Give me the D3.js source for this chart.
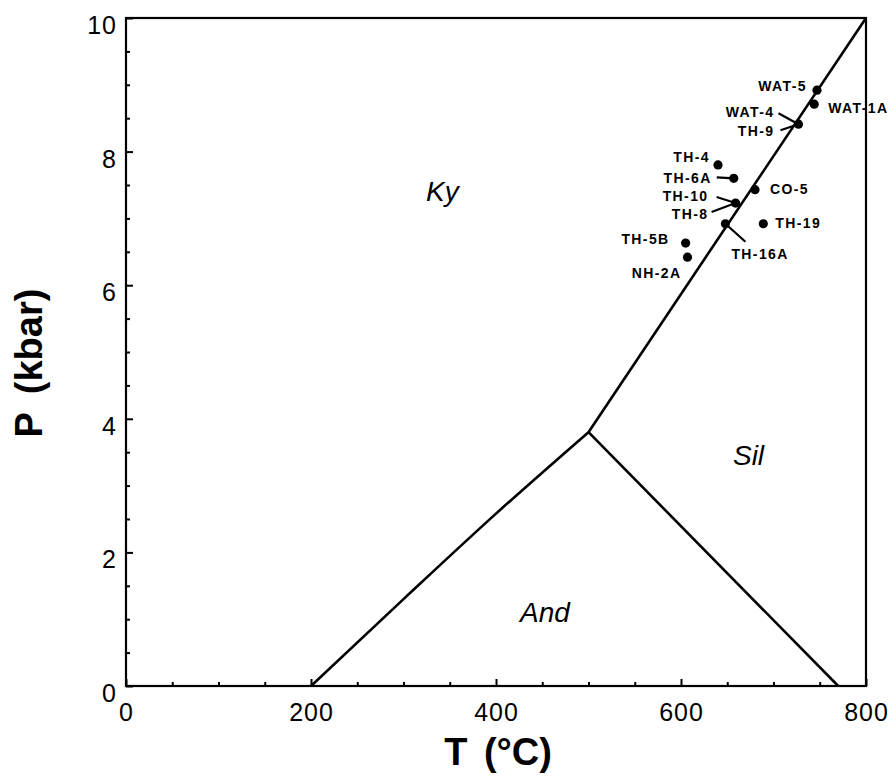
<!DOCTYPE html>
<html>
<head>
<meta charset="utf-8">
<script src="https://d3js.org/d3.v7.min.js"></script>
<style>
  html, body { margin: 0; padding: 0; background: #fff; }
  svg { display: block; }
  text { font-family: "Liberation Sans", Arial, Helvetica, sans-serif; fill: #000; }
</style>
</head>
<body>
<svg id="chart" width="896" height="779"></svg>
<script>
// ---- Data ----
const xTicks = [0, 200, 400, 600, 800];
const yTicks = [0, 2, 4, 6, 8, 10];

// Phase boundaries (T in °C, P in kbar)
const kyAndT = [200, 300, 400, 500];
const kyAndP = [0, 1.30, 2.58, 3.8];
const andSilT = [500, 770];
const andSilP = [3.8, 0];
const kySilT = [500, 800];
const kySilP = [3.8, 10];

// Samples
const sampleNames = ["WAT-5", "WAT-1A", "WAT-4/TH-9", "TH-4", "TH-6A", "CO-5", "TH-10/TH-8", "TH-19", "TH-16A", "TH-5B", "NH-2A"];
const sampleT = [747, 744, 727, 640, 657, 680, 659, 689, 648, 605, 607];
const sampleP = [8.92, 8.71, 8.41, 7.80, 7.60, 7.43, 7.23, 6.92, 6.92, 6.63, 6.42];

// Field names
const fieldNames = ["Ky", "Sil", "And"];
const fieldT = [342, 673, 453];
const fieldP = [7.4, 3.45, 1.1];

// ---- Label layout (pixel offsets from the sample dot) ----
// [sampleIndex, text, dx, dy, anchor, leader (x1,y1 offset) or null]
const labelLayout = [
  [0, "WAT-5", -10, -4, "end", null],
  [1, "WAT-1A", 14, 4, "start", null],
  [2, "WAT-4", -24, -12, "end", [-20, -11]],
  [2, "TH-9", -24, 7, "end", [-18, 6]],
  [3, "TH-4", -8, -8, "end", null],
  [4, "TH-6A", -22, 0, "end", [-17, -1]],
  [5, "CO-5", 15, -1, "start", null],
  [6, "TH-10", -27, -7, "end", [-19, -6]],
  [6, "TH-8", -27, 11, "end", [-24, 9]],
  [7, "TH-19", 12, -1, "start", null],
  [8, "TH-16A", 6, 30, "start", [20, 18]],
  [9, "TH-5B", -16, -4, "end", null],
  [10, "NH-2A", -6, 16, "end", null]
];

// ---- Scales ----
const svg = d3.select("#chart");
const x = d3.scaleLinear().domain([0, 800]).range([126, 866]);
const y = d3.scaleLinear().domain([0, 10]).range([686, 18]);

// Frame
svg.append("rect")
  .attr("x", x(0)).attr("y", y(10))
  .attr("width", x(800) - x(0)).attr("height", y(0) - y(10))
  .attr("fill", "none").attr("stroke", "#000").attr("stroke-width", 2.2);

// Axes (ticks inward)
const minorX = d3.range(0, 801, 50);
const minorY = d3.range(0, 10.01, 0.5);

const xAxis = svg.append("g").attr("transform", `translate(0,${y(0)})`)
  .call(d3.axisBottom(x).tickValues(minorX).tickSize(0).tickFormat(""));
xAxis.select(".domain").remove();
xAxis.selectAll(".tick line").remove();
xAxis.selectAll(".tick").append("line")
  .attr("y1", 0).attr("y2", d => xTicks.includes(d) ? -7 : -4)
  .attr("stroke", "#000").attr("stroke-width", 2);

const xLab = svg.append("g").attr("transform", `translate(0,${y(0)})`)
  .call(d3.axisBottom(x).tickValues(xTicks).tickSize(0).tickPadding(0).tickFormat(d3.format("d")));
xLab.select(".domain").remove();
xLab.selectAll(".tick text")
  .attr("y", 35).attr("dy", 0)
  .style("font-size", "25px").style("letter-spacing", "1px");

const yAxis = svg.append("g").attr("transform", `translate(${x(0)},0)`)
  .call(d3.axisLeft(y).tickValues(minorY).tickSize(0).tickFormat(""));
yAxis.select(".domain").remove();
yAxis.selectAll(".tick line").remove();
yAxis.selectAll(".tick").append("line")
  .attr("x1", 0).attr("x2", d => yTicks.includes(d) ? 7 : 4)
  .attr("stroke", "#000").attr("stroke-width", 2);

const yLab = svg.append("g").attr("transform", `translate(${x(0)},0)`)
  .call(d3.axisLeft(y).tickValues(yTicks).tickSize(0).tickPadding(0).tickFormat(d3.format("d")));
yLab.select(".domain").remove();
yLab.selectAll(".tick text")
  .attr("x", -9).attr("dy", "0.62em")
  .style("font-size", "25px").style("letter-spacing", "1px");

// Axis titles
svg.append("text")
  .attr("x", 498).attr("y", 765)
  .attr("text-anchor", "middle")
  .style("font-size", "38px").style("font-weight", "bold")
  .style("word-spacing", "6px")
  .text("T (°C)");

svg.append("text")
  .attr("transform", "translate(42,363) rotate(-90)")
  .attr("text-anchor", "middle")
  .style("font-size", "38px").style("font-weight", "bold")
  .style("word-spacing", "8px")
  .text("P (kbar)");

// Phase boundaries
const line = d3.line().x(d => x(d[0])).y(d => y(d[1])).curve(d3.curveMonotoneX);
const bounds = [
  d3.zip(kyAndT, kyAndP),
  d3.zip(andSilT, andSilP),
  d3.zip(kySilT, kySilP)
];
svg.append("g").selectAll("path").data(bounds).join("path")
  .attr("d", line)
  .attr("fill", "none").attr("stroke", "#000").attr("stroke-width", 2.6)
  .attr("stroke-linejoin", "miter");

// Field names
svg.append("g").selectAll("text").data(fieldNames).join("text")
  .attr("x", (d, i) => x(fieldT[i]))
  .attr("y", (d, i) => y(fieldP[i]))
  .attr("text-anchor", "middle")
  .attr("dy", "0.35em")
  .style("font-size", "28px").style("font-style", "italic")
  .text(d => d);

// Leaders
svg.append("g").selectAll("line").data(labelLayout.filter(l => l[5])).join("line")
  .attr("x1", l => x(sampleT[l[0]]) + l[5][0])
  .attr("y1", l => y(sampleP[l[0]]) + l[5][1])
  .attr("x2", l => x(sampleT[l[0]]))
  .attr("y2", l => y(sampleP[l[0]]))
  .attr("stroke", "#000").attr("stroke-width", 2.2);

// Dots
svg.append("g").selectAll("circle").data(sampleNames).join("circle")
  .attr("cx", (d, i) => x(sampleT[i]))
  .attr("cy", (d, i) => y(sampleP[i]))
  .attr("r", 4.6)
  .attr("fill", "#000");

// Sample labels
svg.append("g").selectAll("text").data(labelLayout).join("text")
  .attr("x", l => x(sampleT[l[0]]) + l[2])
  .attr("y", l => y(sampleP[l[0]]) + l[3])
  .attr("dy", "0.36em")
  .attr("text-anchor", l => l[4])
  .style("font-size", "14px").style("font-weight", "bold")
  .style("letter-spacing", "1.4px")
  .text(l => l[1]);
</script>
</body>
</html>
